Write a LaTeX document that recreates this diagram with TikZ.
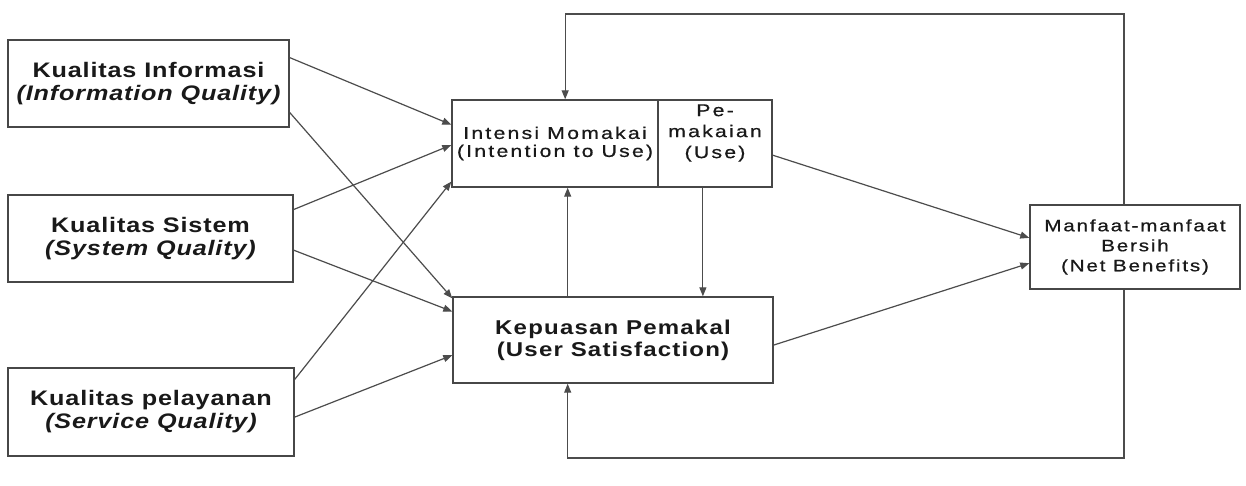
\documentclass[tikz,border=0pt]{standalone}
\usepackage{fontspec}
\setmainfont{Liberation Sans}
\newfontfamily\srcfont[FakeStretch=1.2,LetterSpace=4]{Liberation Sans}
\newfontfamily\usfont[FakeStretch=1.2,LetterSpace=6]{Liberation Sans}
\newfontfamily\midfont[FakeStretch=1.25,LetterSpace=13,FakeBold=0.6]{Liberation Sans}
\newfontfamily\netfont[FakeStretch=1.25,LetterSpace=11,FakeBold=0.6]{Liberation Sans}
\usetikzlibrary{arrows.meta,calc}

\begin{document}
\begin{tikzpicture}[x=1pt,y=-1pt,
  box/.style={draw=black!72,line width=1.4pt,inner sep=0pt,align=center,text=black!90},
  src/.style={box,minimum height=87pt,font=\srcfont\bfseries\fontsize{21}{23}\selectfont},
  link/.style={draw=black!70,line width=1.2pt,-{Triangle[length=9pt,width=7pt]}}]

\useasboundingbox[fill=white] (0,0) rectangle (1246,485);

% quality constructs on the left
\node[src,minimum width=281pt] (info) at (148.5,83.5)
  {Kualitas Informasi\\\itshape (Information Quality)};
\node[src,minimum width=285pt] (sys) at (150.5,238.5)
  {Kualitas Sistem\\\itshape (System Quality)};
\node[src,minimum width=286pt,minimum height=88pt] (serv) at (151,412)
  {Kualitas pelayanan\\\itshape (Service Quality)};

% intention to use / use
\node[box,minimum width=206pt,minimum height=87pt,
      font=\midfont\fontsize{17}{18}\selectfont] (intent) at (555,143.5)
  {Intensi Momakai\\(Intention to Use)};
\node[box,minimum width=114pt,minimum height=87pt] (use) at (715,143.5) {};
\node[align=center,text=black!90,inner sep=0pt,
      font=\midfont\fontsize{17}{21}\selectfont] (uselbl) at (715,133)
  {Pe-\\makaian\\(Use)};

% user satisfaction
\node[box,minimum width=320pt,minimum height=86pt,
      font=\usfont\bfseries\fontsize{20}{22}\selectfont] (us) at (613,340)
  {Kepuasan Pemakal\\(User Satisfaction)};

% net benefits
\node[box,minimum width=210pt,minimum height=84pt,
      font=\netfont\fontsize{16.5}{20}\selectfont] (net) at (1135,247)
  {Manfaat-manfaat\\Bersih\\(Net Benefits)};

% attachment points
\coordinate (i1) at ($(info.north east)!0.207!(info.south east)$);
\coordinate (i2) at ($(info.north east)!0.828!(info.south east)$);
\coordinate (s1) at ($(sys.north east)!0.172!(sys.south east)$);
\coordinate (s2) at ($(sys.north east)!0.632!(sys.south east)$);
\coordinate (v1) at ($(serv.north east)!0.136!(serv.south east)$);
\coordinate (v2) at ($(serv.north east)!0.557!(serv.south east)$);
\coordinate (n1) at ($(intent.north west)!0.287!(intent.south west)$);
\coordinate (n2) at ($(intent.north west)!0.517!(intent.south west)$);
\coordinate (n3) at ($(intent.north west)!0.931!(intent.south west)$);
\coordinate (u1) at ($(us.north west)!0.023!(us.south west)$);
\coordinate (u2) at ($(us.north west)!0.174!(us.south west)$);
\coordinate (u3) at ($(us.north west)!0.674!(us.south west)$);
\coordinate (ue) at ($(use.north east)!0.632!(use.south east)$);
\coordinate (se) at ($(us.north east)!0.558!(us.south east)$);
\coordinate (b1) at ($(net.north west)!0.393!(net.south west)$);
\coordinate (b2) at ($(net.north west)!0.69!(net.south west)$);
\coordinate (usTop) at ($(us.north west)!0.359!(us.north east)$);
\coordinate (usBot) at ($(us.south west)!0.359!(us.south east)$);
\coordinate (useBot) at ($(use.south west)!0.395!(use.south east)$);
\coordinate (intTop) at ($(intent.north west)!0.549!(intent.north east)$);
\coordinate (netTop) at ($(net.north west)!0.448!(net.north east)$);
\coordinate (netBot) at ($(net.south west)!0.448!(net.south east)$);
\coordinate (loopTop) at (0,14);
\coordinate (loopBot) at (0,458);

% quality -> intention / satisfaction
\draw[link] (i1) -- (n1);
\draw[link] (i2) -- (u1);
\draw[link] (s1) -- (n2);
\draw[link] (s2) -- (u2);
\draw[link] (v1) -- (n3);
\draw[link] (v2) -- (u3);

% between intention/use and satisfaction
\draw[link] (usTop) -- (usTop |- intent.south);
\draw[link] (useBot) -- (useBot |- us.north);

% towards net benefits
\draw[link] (ue) -- (b1);
\draw[link] (se) -- (b2);

% feedback loops from net benefits
\draw[link] (netTop) -- (netTop |- loopTop) -- (intTop |- loopTop) -- (intTop);
\draw[link] (netBot) -- (netBot |- loopBot) -- (usBot |- loopBot) -- (usBot);

\end{tikzpicture}
\end{document}
